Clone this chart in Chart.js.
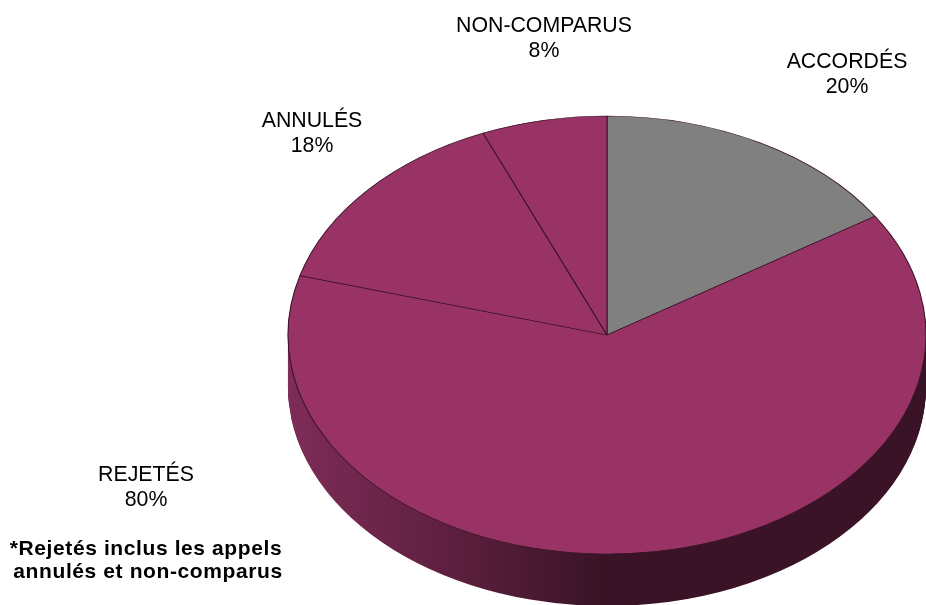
<!DOCTYPE html>
<html>
<head>
<meta charset="utf-8">
<title>Appels</title>
<script src="https://cdn.jsdelivr.net/npm/chart.js@4/dist/chart.umd.min.js"></script>
<style>
  html, body { margin: 0; padding: 0; background: #fff; }
  canvas { display: block; }
</style>
</head>
<body>
<canvas id="pieChart" width="926" height="605"></canvas>
<script>
const categories = ["ACCORDÉS", "REJETÉS", "ANNULÉS", "NON-COMPARUS"];
const percentValues = [20, 80, 18, 8];
const sliceColors = ["#808080", "#993366", "#993366", "#993366"];
const noteLines = ["*Rejetés inclus les appels", "annulés et non-comparus"];

// where the flat pie ends up on the page
const pieX = 607;
const pieY = 335;
const pieRadiusX = 319;
const pieRadiusY = 219;
const pieDepth = 52;

// first line baseline of each label, same order as categories
const labelSpots = [[847, 68], [146, 481], [312, 127], [544, 32]];

function tiltPie(ctx, arc) {
  const size = arc.outerRadius;
  ctx.translate(pieX, pieY);
  ctx.scale(pieRadiusX / size, pieRadiusY / size);
  ctx.translate(-arc.x, -arc.y);
}

const tiltPlugin = {
  id: "tilt",
  beforeDatasetsDraw(chart) {
    const ctx = chart.ctx;
    const arcs = chart.getDatasetMeta(0).data;
    const first = arcs[0];
    const scaleX = pieRadiusX / first.outerRadius;

    // side wall: the same arcs again, pushed down one pixel at a time
    const toChartX = (x) => first.x + (x - pieX) / scaleX;
    const wall = ctx.createLinearGradient(toChartX(288), 0, toChartX(600), 0);
    wall.addColorStop(0, "#7e2c58");
    wall.addColorStop(0.5, "#5f2040");
    wall.addColorStop(1, "#3a1426");

    for (let dy = pieDepth; dy > 0; dy--) {
      ctx.save();
      ctx.translate(0, dy);
      tiltPie(ctx, first);
      arcs.forEach(function (arc) {
        const saved = arc.options;
        arc.options = Object.assign({}, saved, { backgroundColor: wall, borderWidth: 0 });
        arc.draw(ctx);
        arc.options = saved;
      });
      ctx.restore();
    }

    ctx.save();
    tiltPie(ctx, first);
  },
  afterDatasetsDraw(chart) {
    chart.ctx.restore();
  },
  afterDraw(chart) {
    const ctx = chart.ctx;
    ctx.save();
    ctx.fillStyle = "#000";
    ctx.textAlign = "center";
    ctx.textBaseline = "alphabetic";
    ctx.font = '21.3px "Liberation Sans"';
    categories.forEach(function (name, i) {
      ctx.fillText(name, labelSpots[i][0], labelSpots[i][1]);
      ctx.fillText(percentValues[i] + "%", labelSpots[i][0], labelSpots[i][1] + 24.5);
    });
    ctx.font = 'bold 21px "Liberation Sans"';
    ctx.letterSpacing = "0.6px";
    ctx.fillText(noteLines[0], 146, 555);
    ctx.fillText(noteLines[1], 148, 578);
    ctx.restore();
  },
};

new Chart(document.getElementById("pieChart"), {
  type: "pie",
  data: {
    labels: categories,
    datasets: [
      {
        data: percentValues,
        backgroundColor: sliceColors,
        borderColor: "#3a1426",
        borderWidth: 1,
        clip: false,
      },
    ],
  },
  options: {
    responsive: false,
    animation: false,
    events: [],
    layout: { padding: 0 },
    plugins: {
      legend: { display: false },
      tooltip: { enabled: false },
    },
  },
  plugins: [tiltPlugin],
});
</script>
</body>
</html>
